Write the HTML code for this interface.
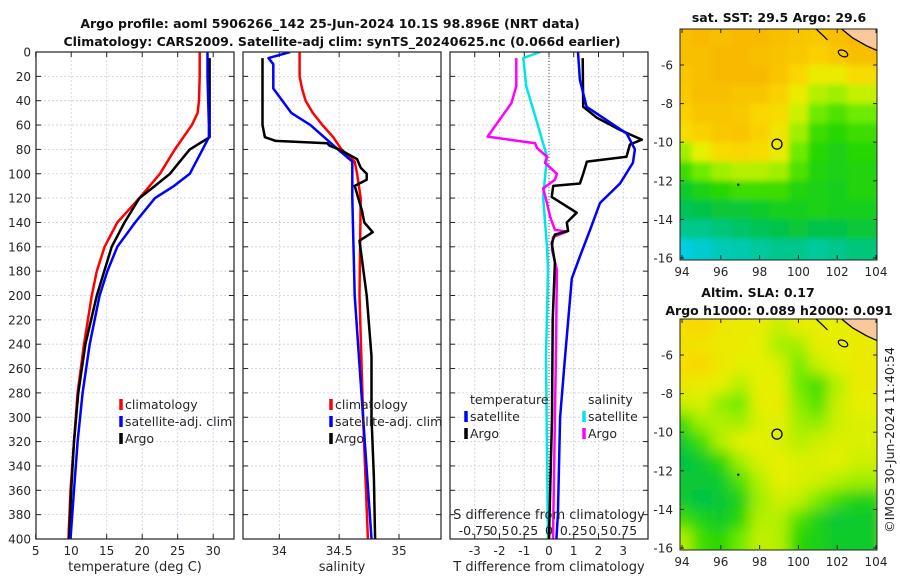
<!DOCTYPE html>
<html><head><meta charset="utf-8">
<style>
html,body{margin:0;padding:0;background:#fff;overflow:hidden;width:900px;height:580px;}
svg{display:block;font-family:"DejaVu Sans","Liberation Sans",sans-serif;}
</style></head>
<body>
<svg id="fig" width="900" height="580" viewBox="0 0 900 580" xmlns="http://www.w3.org/2000/svg">
<defs>
<filter id="blurS" x="0" y="0" width="1" height="1"><feGaussianBlur stdDeviation="3"/></filter>
<filter id="blurL" x="0" y="0" width="1" height="1"><feGaussianBlur stdDeviation="7"/></filter>
<clipPath id="clipA"><rect x="680" y="29" width="197" height="231"/></clipPath>
<clipPath id="clipB"><rect x="680" y="319" width="197" height="231"/></clipPath>
<clipPath id="clipP1"><rect x="36" y="52" width="198" height="487"/></clipPath>
<clipPath id="clipP2"><rect x="243" y="52" width="198" height="487"/></clipPath>
<clipPath id="clipP3"><rect x="450" y="52" width="198" height="487"/></clipPath>
</defs>
<text x="330" y="28" text-anchor="middle" font-size="12.5" font-weight="bold" fill="#111">Argo profile: aoml 5906266_142 25-Jun-2024 10.1S 98.896E (NRT data)</text>
<text x="342" y="46" text-anchor="middle" font-size="12.5" font-weight="bold" fill="#111">Climatology: CARS2009. Satellite-adj clim: synTS_20240625.nc (0.066d earlier)</text>
<text x="779" y="22" text-anchor="middle" font-size="12.5" font-weight="bold" fill="#111">sat. SST: 29.5 Argo: 29.6</text>
<text x="758" y="297" text-anchor="middle" font-size="12.5" font-weight="bold" fill="#111">Altim. SLA: 0.17</text>
<text x="779" y="315" text-anchor="middle" font-size="12.5" font-weight="bold" fill="#111">Argo h1000: 0.089 h2000: 0.091</text>
<text transform="translate(894,440) rotate(-90)" text-anchor="middle" font-size="12.5" fill="#222">©IMOS 30-Jun-2024 11:40:54</text>
<g id="layer"></g>
</svg>
<script>
// ---------- profile data ----------
const depthsClimT = [0,20,40,50,60,80,100,120,140,160,180,200,240,280,320,360,400];
const tempClim    = [28.1,28.1,28.0,27.8,27.0,24.6,22.5,19.6,16.5,14.7,13.6,12.9,11.8,10.9,10.4,9.9,9.6];
const depthsSatT  = [0,20,40,60,70,80,90,100,110,120,140,160,180,200,240,280,320,360,400];
const tempSat     = [29.2,29.2,29.3,29.4,29.4,28.5,27.6,26.7,24.5,21.8,19.0,16.5,15.1,14.0,12.6,11.6,10.9,10.4,9.9];
const depthsArgoT = [5,40,70,75,80,90,100,110,120,140,160,200,240,280,320,360,400];
const tempArgo    = [29.5,29.5,29.5,28.1,26.7,25.3,23.9,21.8,19.6,17.5,15.7,13.6,12.0,11.0,10.4,10.0,9.7];

const depthsClimS = [0,20,30,40,50,60,70,80,90,100,120,200,300,400];
const salClim     = [34.17,34.17,34.19,34.22,34.28,34.36,34.45,34.52,34.63,34.65,34.68,34.67,34.70,34.74];
const depthsSatS  = [0,5,10,30,50,60,80,90,100,120,200,300,400];
const salSat      = [34.09,33.91,33.95,33.95,34.10,34.26,34.49,34.61,34.61,34.61,34.63,34.70,34.77];
const depthsArgoS = [5,60,70,73,75,77,80,88,95,100,105,110,120,130,140,148,155,170,200,250,300,350,400];
const salArgo     = [33.86,33.86,33.88,33.97,34.40,34.42,34.50,34.65,34.68,34.73,34.73,34.63,34.66,34.69,34.71,34.78,34.67,34.69,34.73,34.77,34.77,34.79,34.80];

const depthsDiffTArgo = [5,45,54,64,72,76,86,90,100,108,110,119,132,140,147,150,157,173,220,300,400];
const diffTArgo       = [1.36,1.38,1.93,2.87,3.75,3.27,3.13,1.53,1.38,1.25,0.17,0.11,1.12,0.72,0.77,0.24,0.11,0.24,0.15,0.12,0.0];
const depthsDiffTSat  = [0,23,45,56,67,80,91,108,124,146,168,186,250,300,380,400];
const diffTSat        = [1.17,1.25,1.52,2.33,3.14,3.47,3.39,2.87,2.06,1.66,1.25,0.92,0.65,0.45,0.36,0.3];
const depthsDiffSSat  = [0,5,28,58,86,119,160,179,250,330,400];
const diffSSat        = [-0.09,-0.26,-0.23,-0.12,-0.02,-0.06,-0.02,-0.01,-0.03,-0.02,-0.01];
const depthsDiffSArgo = [5,28,42,69.5,75,79,86,91,100,105,112,124,135,146,147.5,152,162.5,179,250,302,400];
const diffSArgo       = [-0.33,-0.33,-0.38,-0.62,-0.14,-0.12,-0.02,-0.04,0.08,0.06,-0.06,-0.02,0.01,0.06,0.18,0.04,0.03,0.08,0.07,0.06,0.04];

const depthTicks = [0,20,40,60,80,100,120,140,160,180,200,220,240,260,280,300,320,340,360,380,400];
const tempTicks = [5,10,15,20,25,30,35];
const salTicks = [34,34.5,35];
const salTickLabels = ["34","34.5","35"];
const diffTTicks = [-3,-2,-1,0,1,2,3];
const diffSTicks = [-0.75,-0.5,-0.25,0,0.25,0.5,0.75];
const diffSTickLabels = ["-0.75","0.5","0.25","0","0.25","0.5","0.75"];

// ---------- map data (colour index 0..1), rows lat -4..-16, cols lon 94..104 ----------
const sstRows = [
[.88,.9,.88,.9,.9,.88,.86,.85,.88,.9],
[.88,.88,.9,.9,.88,.87,.85,.82,.85,.88],
[.86,.88,.9,.9,.9,.86,.8,.72,.72,.78],
[.85,.88,.88,.86,.86,.82,.72,.62,.6,.65],
[.82,.86,.86,.85,.8,.78,.66,.55,.52,.55],
[.78,.82,.85,.86,.82,.75,.6,.5,.48,.5],
[.6,.7,.78,.8,.78,.72,.55,.48,.45,.48],
[.5,.55,.6,.62,.62,.6,.52,.46,.45,.46],
[.42,.45,.48,.5,.5,.5,.46,.45,.44,.46],
[.36,.38,.4,.4,.42,.44,.44,.45,.44,.44],
[.3,.3,.32,.34,.36,.38,.4,.38,.38,.4],
[.2,.22,.25,.26,.28,.3,.3,.28,.3,.32]];
const slaRows = [
[.78,.8,.75,.72,.72,.65,.72,.7,.7,.72],
[.76,.75,.72,.72,.7,.6,.6,.72,.7,.72],
[.78,.8,.74,.7,.7,.68,.55,.65,.7,.72],
[.74,.72,.7,.62,.7,.7,.55,.5,.62,.72],
[.65,.68,.58,.55,.7,.72,.58,.52,.65,.7],
[.5,.6,.62,.6,.68,.7,.6,.58,.66,.68],
[.42,.5,.62,.7,.7,.68,.62,.66,.68,.68],
[.38,.42,.48,.6,.68,.7,.68,.68,.7,.66],
[.4,.4,.42,.52,.62,.7,.68,.66,.62,.6],
[.42,.38,.4,.45,.6,.66,.64,.56,.5,.45],
[.5,.45,.42,.48,.62,.62,.52,.45,.4,.42],
[.62,.5,.48,.55,.64,.62,.48,.45,.42,.42]];
const lonTicks = [94,96,98,100,102,104];
const latTicks = [-6,-8,-10,-12,-14,-16];
const argoLon = 98.896, argoLat = -10.1;

// ---------- helpers ----------
const NS = "http://www.w3.org/2000/svg";
const layer = document.getElementById("layer");
function mk(tag, attrs, parent){
  const e = document.createElementNS(NS, tag);
  for (const k in attrs) e.setAttribute(k, attrs[k]);
  (parent||layer).appendChild(e);
  return e;
}
const yD = d => 52 + d*1.2175;
const xT = t => 35.7 + (t-5)*7.1;
const xS = s => 279.3 + (s-34)*119.7;
const xDT = v => 549 + v*24.75;
const xDS = v => 549 + v*99;
const TXT = "#262626", GRID = "#c9cde6";

function panel(x0, name, xs, xticks, xlabels){
  const g = mk("g", {});
  
  
  mk("rect",{x:x0,y:52,width:198,height:487,fill:"#fff"},g);
  depthTicks.forEach(d=>{
    const gl = mk("line",{x1:x0,x2:x0+198,y1:yD(d),y2:yD(d),stroke:GRID,"stroke-width":0.8,"stroke-dasharray":"2,2"},g);
    
    
    mk("line",{x1:x0,x2:x0+5,y1:yD(d),y2:yD(d),stroke:"#222"},g);
    mk("line",{x1:x0+193,x2:x0+198,y1:yD(d),y2:yD(d),stroke:"#222"},g);
  });
  xticks.forEach((t,i)=>{
    const xx = xs(t);
    if (xx < x0-0.5 || xx > x0+198.5) return;
    const gl = mk("line",{x1:xx,x2:xx,y1:52,y2:539,stroke:GRID,"stroke-width":0.8,"stroke-dasharray":"2,2"},g);
    
    
    mk("line",{x1:xx,x2:xx,y1:539,y2:534,stroke:"#222"},g);
    mk("line",{x1:xx,x2:xx,y1:52,y2:57,stroke:"#222"},g);
    const tl = mk("text",{x:xx,y:555,"text-anchor":"middle","font-size":12,fill:TXT},g);
    tl.textContent = xlabels[i];
    
    
  });
  return g;
}
function border(x0){ mk("rect",{x:x0,y:52,width:198,height:487,fill:"none",stroke:"#222","stroke-width":1.2}); }
function line(ds, vs, xs, color, w, clip, name){
  const pts = ds.map((d,i)=>xs(vs[i]).toFixed(1)+","+yD(d).toFixed(1)).join(" ");
  const p = mk("polyline",{points:pts,fill:"none",stroke:color,"stroke-width":w,"stroke-linejoin":"round","clip-path":"url(#"+clip+")"});
  
  
}
function legend(x, y, items, fs){
  items.forEach((it,i)=>{
    const yy = y + i*17;
    if (it[1]) mk("line",{x1:x,x2:x,y1:yy-10,y2:yy+1,stroke:it[1],"stroke-width":3.5});
    const t = mk("text",{x:x+4,y:yy,"font-size":fs||12.5,fill:TXT});
    t.textContent = it[0];
    
    
  });
}

// ---------- panel 1: temperature ----------
panel(36,"temperature-panel",xT,tempTicks,tempTicks.map(String));
depthTicks.forEach(d=>{
  const t = mk("text",{x:31,y:yD(d)+4.5,"text-anchor":"end","font-size":12,fill:TXT});
  t.textContent = d;
  
  
});
line(depthsClimT,tempClim,xT,"#ff0000",2.5,"clipP1","temp-climatology-line");
line(depthsArgoT,tempArgo,xT,"#000",2.5,"clipP1","temp-argo-line");
line(depthsSatT,tempSat,xT,"#0000ff",2.5,"clipP1","temp-satellite-line");
border(36);
legend(121,409,[["climatology","#ff0000"],["satellite-adj. clim","#0000ff"],["Argo","#000"]]);
{const t=mk("text",{x:135,y:571,"text-anchor":"middle","font-size":13,fill:TXT});t.textContent="temperature (deg C)";

}

// ---------- panel 2: salinity ----------
panel(243,"salinity-panel",xS,salTicks,salTickLabels);
line(depthsClimS,salClim,xS,"#ff0000",2.5,"clipP2","sal-climatology-line");
line(depthsSatS,salSat,xS,"#0000ff",2.5,"clipP2","sal-satellite-line");
line(depthsArgoS,salArgo,xS,"#000",2.5,"clipP2","sal-argo-line");
border(243);
legend(331,409,[["climatology","#ff0000"],["satellite-adj. clim","#0000ff"],["Argo","#000"]]);
{const t=mk("text",{x:342,y:571,"text-anchor":"middle","font-size":13,fill:TXT});t.textContent="salinity";

}

// ---------- panel 3: differences ----------
panel(450,"difference-panel",xDT,diffTTicks,diffTTicks.map(String));
{const z=mk("line",{x1:549,x2:549,y1:52,y2:539,stroke:"#555","stroke-width":1,"stroke-dasharray":"1,2"});

}
line(depthsDiffSSat,diffSSat,xDS,"#00e5e5",2.5,"clipP3","sdiff-satellite-line");
line(depthsDiffSArgo,diffSArgo,xDS,"#ff00ff",2.5,"clipP3","sdiff-argo-line");
line(depthsDiffTArgo,diffTArgo,xDT,"#000",2.5,"clipP3","tdiff-argo-line");
line(depthsDiffTSat,diffTSat,xDT,"#0000ff",2.5,"clipP3","tdiff-satellite-line");
border(450);
legend(466,404,[["temperature",null],["satellite","#0000ff"],["Argo","#000"]]);
legend(584,404,[["salinity",null],["satellite","#00e5e5"],["Argo","#ff00ff"]]);
{const t=mk("text",{x:549,y:519,"text-anchor":"middle","font-size":13,fill:TXT});t.textContent="S difference from climatology";

}
diffSTicks.forEach((v,i)=>{
  const t=mk("text",{x:xDS(v),y:535,"text-anchor":"middle","font-size":12.5,fill:TXT});
  t.textContent=diffSTickLabels[i];
  
  
});
{const t=mk("text",{x:549,y:571,"text-anchor":"middle","font-size":13,fill:TXT});t.textContent="T difference from climatology";

}

// ---------- maps ----------
function cmap(v){
  const st=[[0,[0,20,190]],[0.2,[0,205,225]],[0.38,[0,195,70]],[0.48,[40,215,0]],[0.55,[110,235,0]],[0.62,[180,240,0]],[0.7,[230,240,0]],[0.8,[250,215,0]],[0.9,[248,185,0]],[1,[240,155,0]]];
  for(let i=1;i<st.length;i++){ if(v<=st[i][0]){const a=st[i-1],b=st[i],f=(v-a[0])/(b[0]-a[0]);
    const c=a[1].map((x,k)=>Math.round(x+(b[1][k]-x)*f));return "rgb("+c.join(",")+")";}}
  return "rgb(240,155,0)";
}
function drawMap(top, rows, clipId, blurId, name){
  const lonX = lon => 682 + (lon-94)*19.4;
  const bottom = top+230;
  const latY = lat => bottom - 1 - (lat+16)*19.3;
  const g = mk("g",{"clip-path":"url(#"+clipId+")"});
  
  
  const inner = mk("g",{filter:"url(#"+blurId+")"},g);
  mk("rect",{x:660,y:top-20,width:240,height:270,fill:cmap(rows[0][0])},inner);
  rows.forEach((row,r)=>{
    row.forEach((v,c)=>{
      let x1 = lonX(94+c-0.5), y1 = latY(-4-r);
      let w = 19.4+0.6, h = 19.3+0.6;
      if (c===0){ x1 -= 20; w += 20; }
      if (c===row.length-1){ w += 20; }
      if (r===0){ y1 -= 20; h += 20; }
      if (r===rows.length-1){ h += 20; }
      const cell = mk("rect",{x:x1.toFixed(1),y:y1.toFixed(1),width:w.toFixed(1),height:h.toFixed(1),fill:cmap(v)},inner);
      
      
    });
  });
  // land
  const land = mk("polygon",{points:`${lonX(102.1)},${top-2} ${lonX(102.8)},${latY(-4.6)} ${lonX(103.5)},${latY(-5.0)} ${lonX(104.2)},${latY(-5.2)} ${lonX(104.2)},${top-2}`,fill:"#f9c89b"},g);
  
  
  mk("polyline",{points:`${lonX(102.1)},${top-2} ${lonX(102.8)},${latY(-4.6)} ${lonX(103.5)},${latY(-5.0)} ${lonX(104.05)},${latY(-5.25)}`,fill:"none",stroke:"#000","stroke-width":1.3},g);
  mk("polyline",{points:`${lonX(100.8)},${top-2} ${lonX(101.3)},${latY(-4.5)} ${lonX(101.5)},${latY(-4.7)}`,fill:"none",stroke:"#000","stroke-width":1.3},g);
  mk("ellipse",{cx:lonX(102.3),cy:latY(-5.4),rx:5,ry:3,fill:"none",stroke:"#000","stroke-width":1.2,transform:`rotate(25 ${lonX(102.3)} ${latY(-5.4)})`},g);
  mk("rect",{x:lonX(96.85),y:latY(-12.15),width:2,height:2,fill:"#000"},g);
  const m = mk("circle",{cx:lonX(argoLon),cy:latY(argoLat),r:5,fill:"none",stroke:"#000","stroke-width":1.3});
  
  
  mk("rect",{x:680,y:top,width:197,height:231,fill:"none",stroke:"#222","stroke-width":1});
  latTicks.forEach(l=>{
    const y=latY(l);
    mk("line",{x1:680,x2:684,y1:y,y2:y,stroke:"#222"});
    mk("line",{x1:873,x2:877,y1:y,y2:y,stroke:"#222"});
    const t=mk("text",{x:673,y:y+4.5,"text-anchor":"end","font-size":12,fill:TXT});t.textContent=l;
    
    
  });
  lonTicks.forEach(l=>{
    const x=lonX(l);
    mk("line",{x1:x,x2:x,y1:bottom,y2:bottom-4,stroke:"#222"});
    mk("line",{x1:x,x2:x,y1:top,y2:top+4,stroke:"#222"});
    const t=mk("text",{x:x,y:bottom+17,"text-anchor":"middle","font-size":12,fill:TXT});t.textContent=l;
    
    
  });
}
drawMap(29, sstRows, "clipA", "blurS", "sst-map");
drawMap(319, slaRows, "clipB", "blurL", "sla-map");
</script>
</body></html>
